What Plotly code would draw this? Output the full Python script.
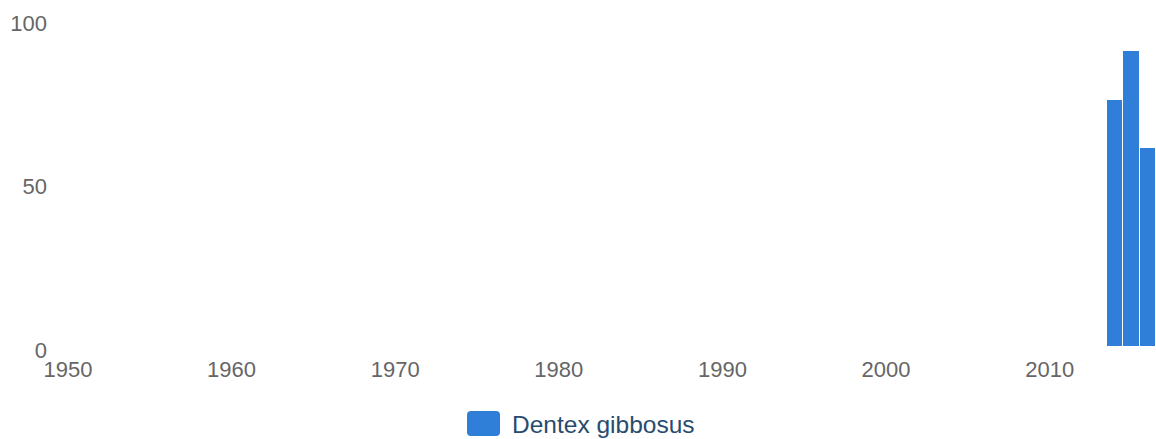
import plotly.graph_objects as go

years = [2014, 2015, 2016]
values = [75.5, 90.6, 61.0]
series_name = "Dentex gibbosus"
x_ticks = [1950, 1960, 1970, 1980, 1990, 2000, 2010]
y_ticks = [0, 50, 100]

BAR_COLOR = "#2f7ed8"
W, H = 1156, 439
L, R, T, B = 48, 0, 20, 92

fig = go.Figure()
fig.add_trace(go.Bar(
    x=years, y=values, name=series_name,
    marker=dict(color=BAR_COLOR, line=dict(color="white", width=1)),
    showlegend=False, hoverinfo="x+y",
))

plot_w = W - L - R
plot_h = H - T - B

def px_to_paper_x(px):
    return (px - L) / plot_w

def px_to_paper_y(py):
    return (H - B - py) / plot_h

# legend drawn manually (rounded swatch + text)
fig.add_shape(
    type="path", xref="paper", yref="paper",
    xsizemode="pixel", ysizemode="pixel",
    xanchor=px_to_paper_x(483.5), yanchor=px_to_paper_y(423.5),
    path="M -12.5 -12.5 L 12.5 -12.5 Q 16.5 -12.5 16.5 -8.5 L 16.5 8.5 Q 16.5 12.5 12.5 12.5 "
         "L -12.5 12.5 Q -16.5 12.5 -16.5 8.5 L -16.5 -8.5 Q -16.5 -12.5 -12.5 -12.5 Z",
    fillcolor=BAR_COLOR, line=dict(width=0),
)
fig.add_annotation(
    text=series_name, xref="paper", yref="paper",
    x=px_to_paper_x(510), y=px_to_paper_y(424),
    xanchor="left", yanchor="middle", showarrow=False,
    font=dict(family="Liberation Sans, Arial, sans-serif", size=24.5, color="#274b6d"),
)

fig.update_layout(
    width=W, height=H,
    margin=dict(l=L, r=R, t=T, b=B, pad=0),
    paper_bgcolor="white", plot_bgcolor="white",
    bargap=0,
    font=dict(family="Liberation Sans, Arial, sans-serif"),
    xaxis=dict(
        range=[1948.78, 2016.5],
        tickvals=x_ticks, ticktext=[str(v) for v in x_ticks],
        showgrid=False, zeroline=False, showline=False, ticks="",
        tickfont=dict(size=22, color="#666666"),
        ticklabelstandoff=7, ticklabeloverflow="allow",
    ),
    yaxis=dict(
        range=[0, 100],
        tickvals=y_ticks, ticktext=[str(v) for v in y_ticks],
        showgrid=False, zeroline=False, showline=False, ticks="",
        tickfont=dict(size=22, color="#666666"),
        ticklabeloverflow="allow", ticklabelshift=3,
    ),
)

fig.write_html(
    "out.html",
    config={"displayModeBar": False},
    post_script="document.documentElement.style.overflow='hidden';"
                "document.body.style.margin='0';document.body.style.overflow='hidden';",
)
